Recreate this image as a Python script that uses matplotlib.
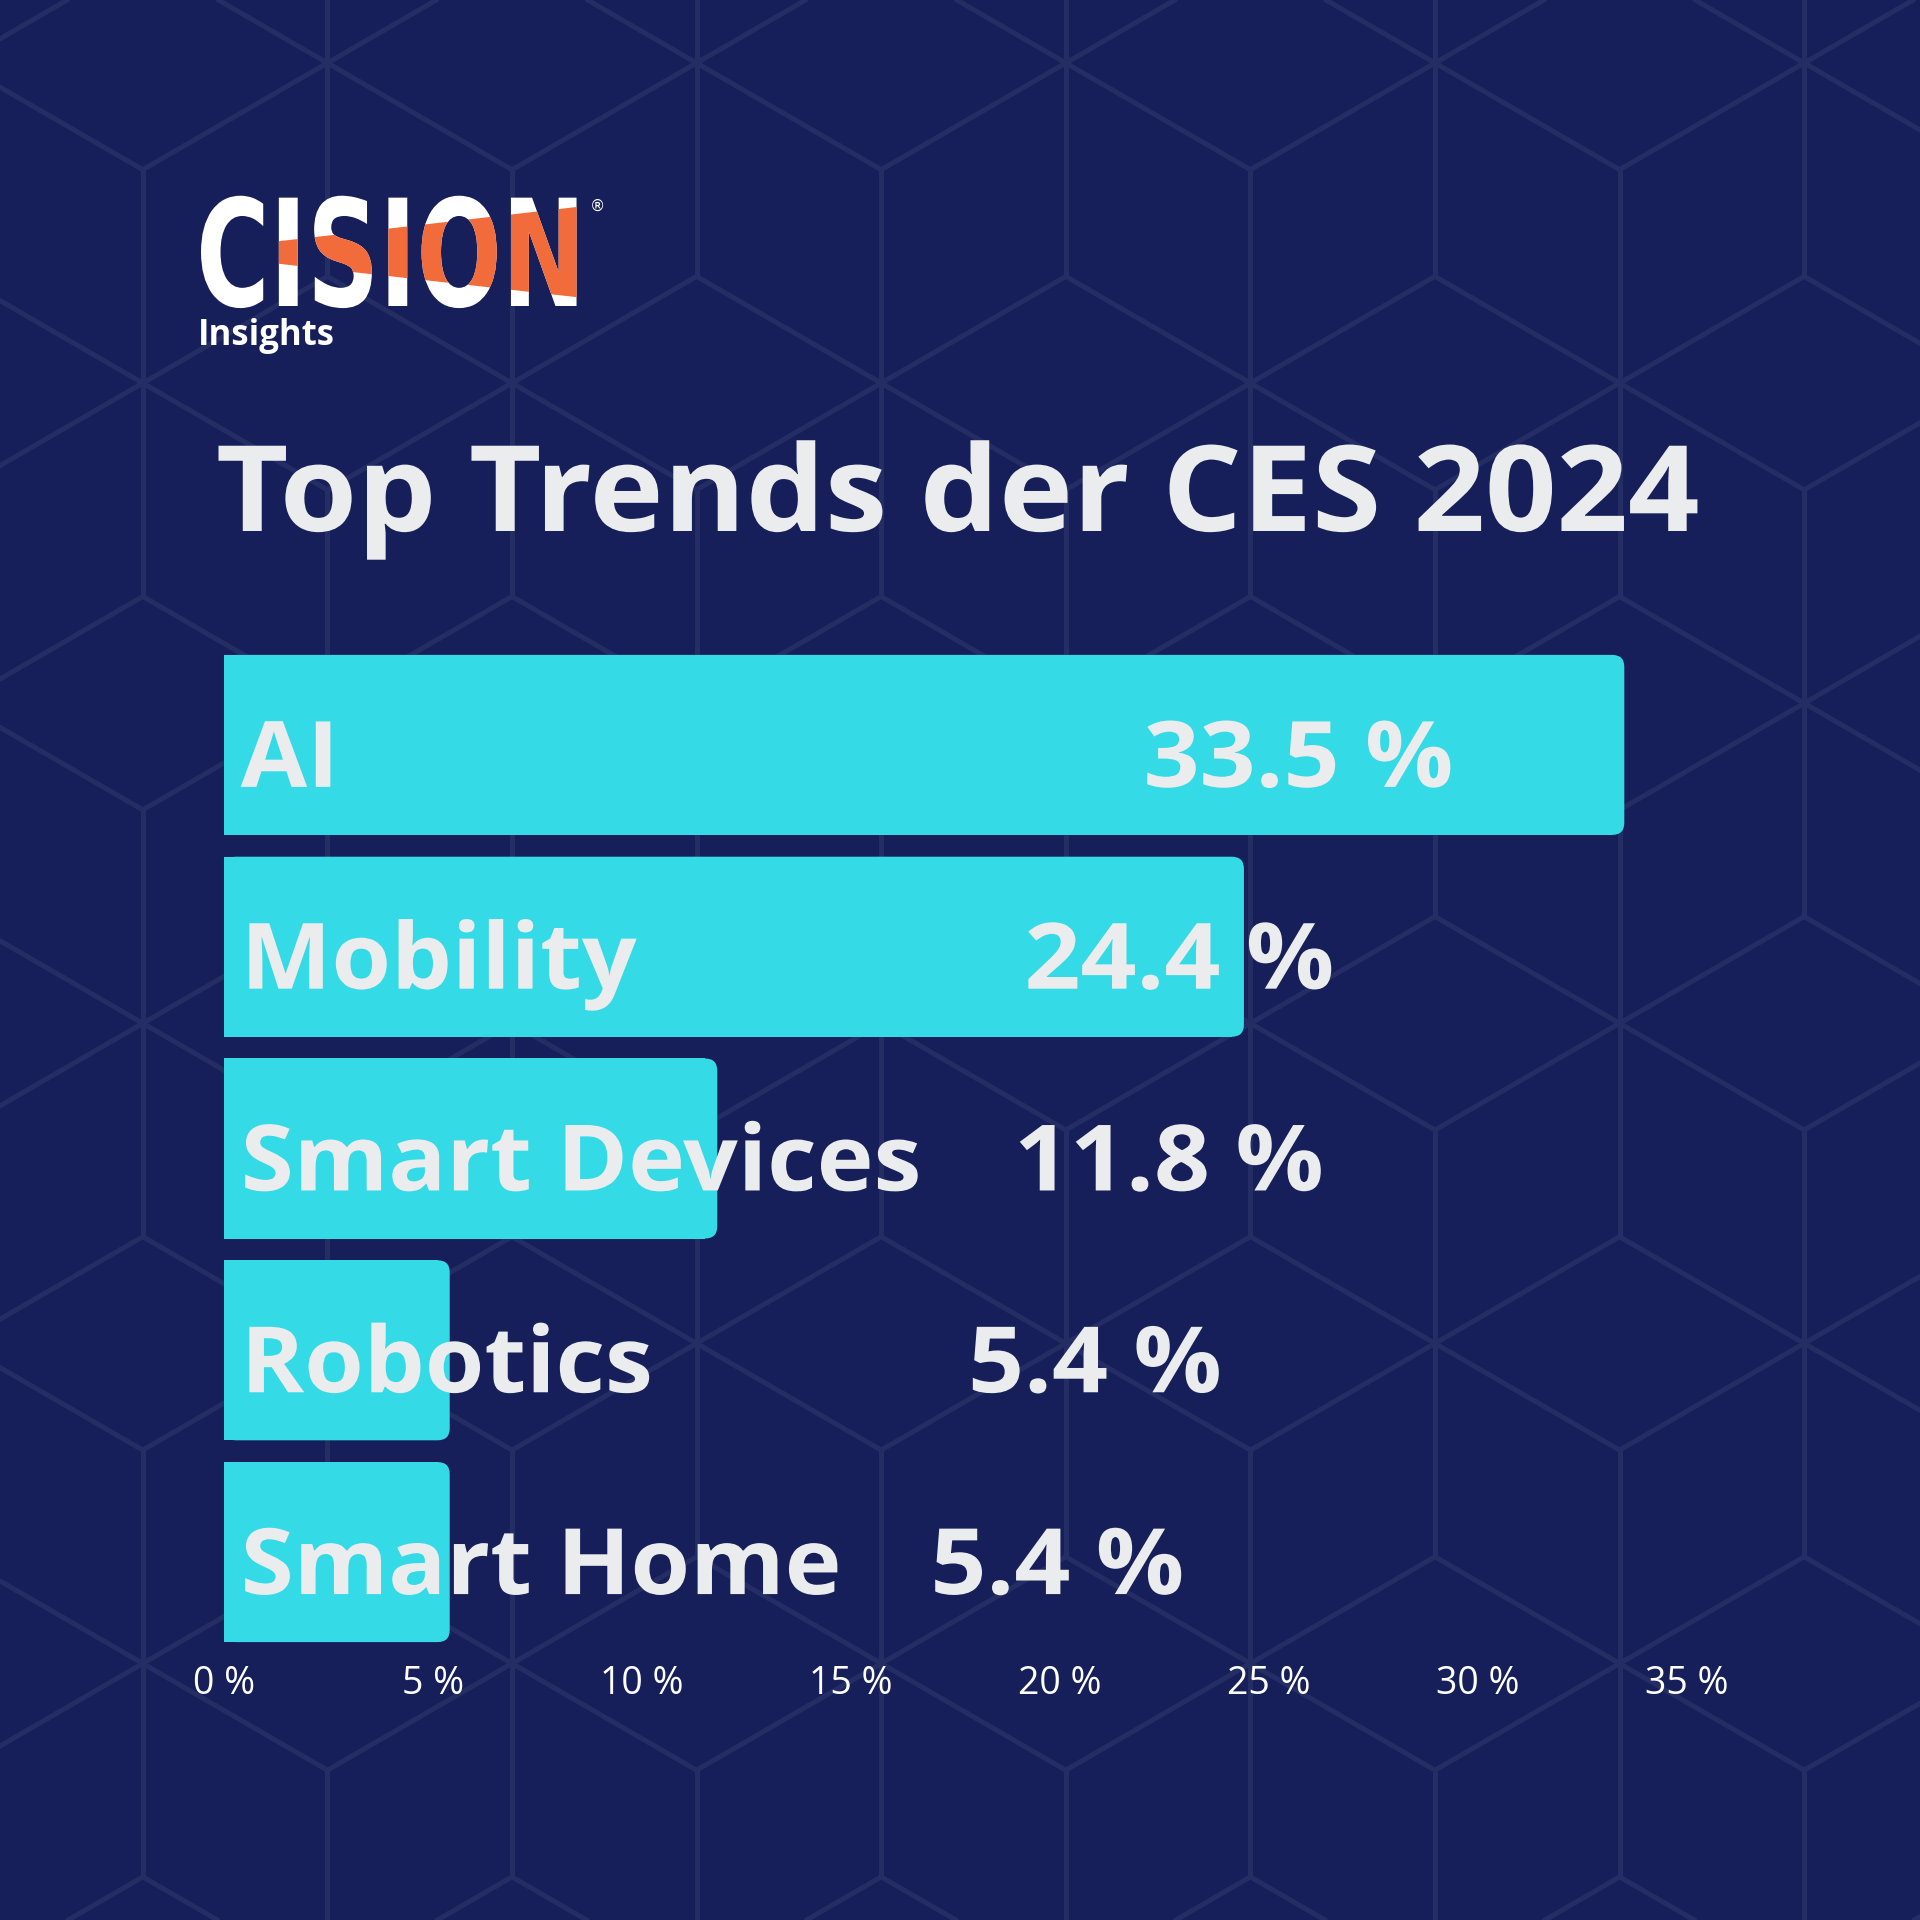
import matplotlib
matplotlib.use("Agg")
import matplotlib.pyplot as plt
from matplotlib import patheffects
from matplotlib.collections import LineCollection
from matplotlib.patches import FancyBboxPatch, Polygon
from matplotlib.transforms import Affine2D

# data
categories = ["AI", "Mobility", "Smart Devices", "Robotics", "Smart Home"]
shares = [33.5, 24.4, 11.8, 5.4, 5.4]
tick_values = [0, 5, 10, 15, 20, 25, 30, 35]
tick_labels = ["0 %", "5 %", "10 %", "15 %", "20 %", "25 %", "30 %", "35 %"]
# left edge of the value labels (in % units) - placed by hand in the original
value_label_x = [22.0, 19.15, 18.9, 17.8, 16.9]

BG = "#161f5a"
HEX = "#242d64"
CYAN = "#34dbe6"
TXT = "#ebecee"
ORANGE = "#f26b3b"


class Stretch(patheffects.AbstractPathEffect):
    # squeeze / widen the glyphs horizontally around the text origin
    def __init__(self, sx):
        super().__init__()
        self.sx = sx

    def draw_path(self, renderer, gc, tpath, affine, rgbFace=None):
        renderer.draw_path(gc, tpath, Affine2D().scale(self.sx, 1) + affine, rgbFace)


fig = plt.figure(figsize=(19.2, 19.2), dpi=100, facecolor=BG)

# background pattern (pixel coords, y down)
bg = fig.add_axes([0, 0, 1, 1])
bg.set_xlim(0, 1920)
bg.set_ylim(1920, 0)
bg.axis("off")

x0, y0, w, h = 1435, 63, 184.6, 106.7
segs = []
for r in range(-6, 27):
    if r % 3 != 0:
        continue
    for c in range(-12, 6):
        if (c + r) % 2:
            continue
        px, py = x0 + c * w, y0 + r * h
        for dx, dy in [(0, 2), (0, -2), (1, 1), (1, -1), (-1, 1), (-1, -1)]:
            segs.append([(px, py), (px + dx * w, py + dy * h)])
bg.add_collection(LineCollection(segs, colors=HEX, linewidths=3.6, zorder=0))

# logo
logo_kw = dict(fontsize=107, fontweight="bold", family="DejaVu Sans",
               va="baseline", ha="left")
bg.text(196, 306, "CISION", color="white",
        path_effects=[Stretch(0.675)], **logo_kw)
band = Polygon([(272, 242), (620, 202), (620, 302), (272, 263)], closed=True,
               transform=bg.transData)
t = bg.text(196, 306, "CISION", color=ORANGE,
            path_effects=[Stretch(0.675)], **logo_kw)
t.set_clip_on(True)
t.set_clip_path(band)
bg.text(590, 206, "®", color="white", fontsize=11, va="center", ha="left")
bg.text(198, 345, "Insights", color="white", fontsize=25, fontweight="bold",
        family="Open Sans", va="baseline", ha="left")

# title
bg.text(216, 531, "Top Trends der CES 2024", color=TXT, fontsize=86,
        fontweight="bold", family="Open Sans", va="baseline", ha="left",
        path_effects=[Stretch(1.048)])

# bar chart
ax = fig.add_axes([224 / 1920, 1 - 1653 / 1920, 41.8 * 40 / 1920, 1009 / 1920])
ax.set_facecolor("none")
ypos = list(range(len(categories)))
bars = ax.barh(ypos, shares, height=0.892, color=CYAN, zorder=2)
ax.set_xlim(0, 40)
ax.set_ylim(4.5, -0.5)

rx = 0.29
ry = 0.06
for b in bars:
    bx, by, bw, bh = b.get_x(), b.get_y(), b.get_width(), b.get_height()
    b.set_width(bw - rx)
    ax.add_patch(FancyBboxPatch((bx, by), bw, bh,
                                boxstyle=f"round,pad=0,rounding_size={rx}",
                                mutation_aspect=ry / rx, fc=CYAN, ec="none", zorder=2))

for i, (cat, v) in enumerate(zip(categories, shares)):
    ax.text(0.4, i + 0.208, cat, color=TXT, fontsize=66, fontweight="bold",
            family="Open Sans", va="baseline", ha="left", zorder=3,
            path_effects=[Stretch(1.05)])
    ax.text(value_label_x[i], i + 0.208, f"{v} %", color=TXT, fontsize=66,
            fontweight="bold", family="Open Sans", va="baseline", ha="left", zorder=3,
            path_effects=[Stretch(1.07)])

ax.set_xticks(tick_values)
ax.set_xticklabels(tick_labels, fontsize=27, color="white", family="Open Sans")
ax.set_yticks([])
ax.tick_params(axis="x", length=0, pad=9)
for s in ax.spines.values():
    s.set_visible(False)

fig.savefig("out.png", dpi=100, facecolor=BG)
